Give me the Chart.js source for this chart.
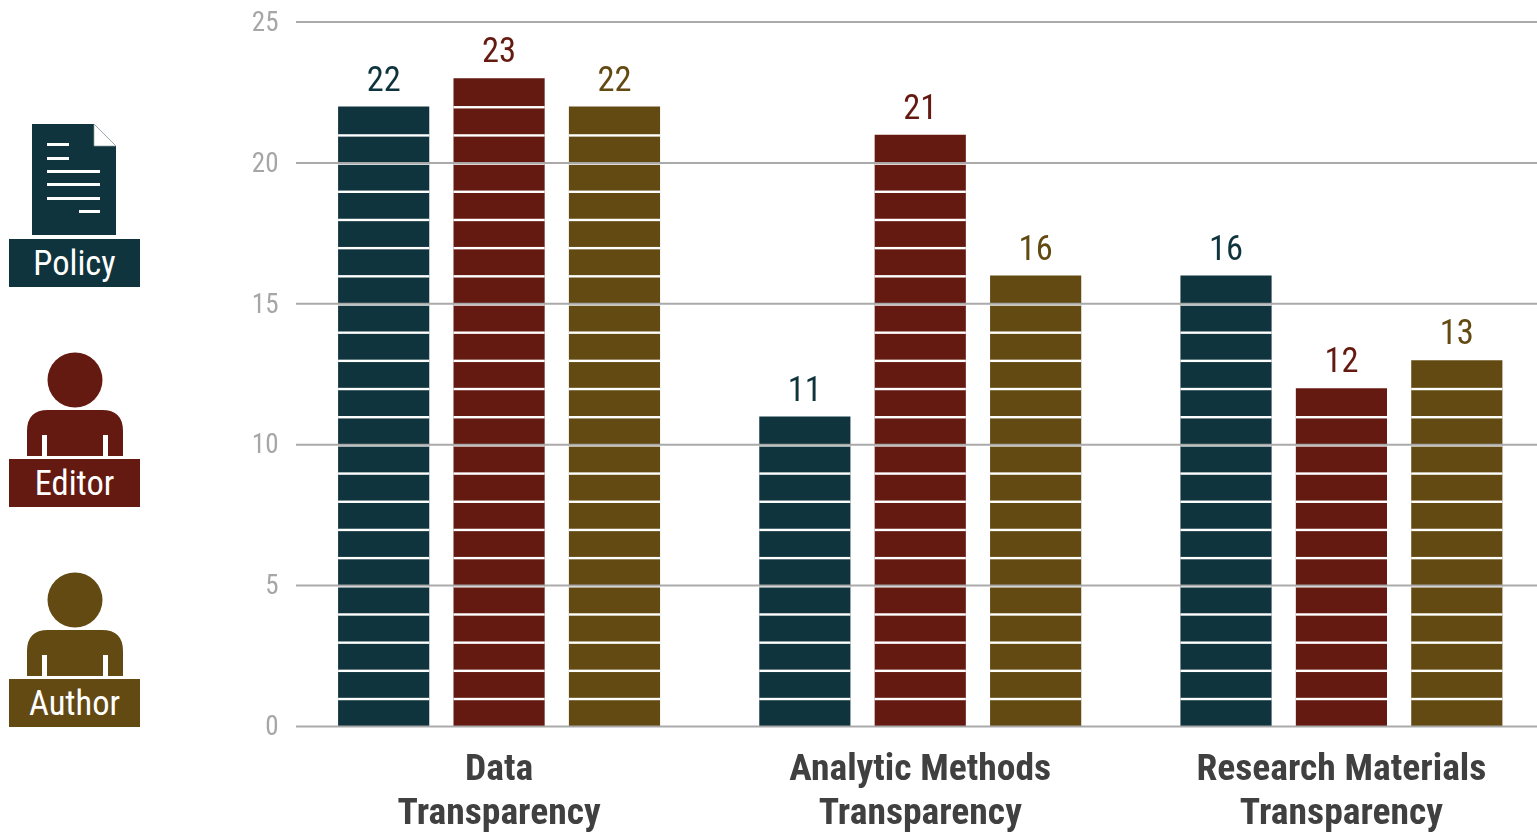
<!DOCTYPE html>
<html>
<head>
<meta charset="utf-8">
<title>Transparency</title>
<script src="https://cdn.jsdelivr.net/npm/chart.js@4"></script>
<style>
html, body { margin: 0; padding: 0; background: #fff; overflow: hidden; width: 1537px; height: 833px; }
#chart { position: absolute; left: 0; top: 0; }
.tag { position: absolute; left: 9px; width: 131px; height: 48px; color: #fff; text-align: center;
       font: 34.5px/48px "Roboto Condensed", Roboto, sans-serif; }
.icon { position: absolute; left: 0; top: 0; }
</style>
</head>
<body>
<canvas id="chart" width="1552" height="833"></canvas>
<svg class="icon" width="160" height="833">
  <path d="M32 124H94L116 146V235H32Z" fill="#0F343D"/>
  <path d="M94 124L116 146H94Z" fill="#fff" stroke="#8aa0a5" stroke-width="0.7"/>
  <g fill="#fff">
    <rect x="47" y="143" width="22" height="3"/><rect x="47" y="157" width="22" height="3"/>
    <rect x="47" y="170" width="53" height="3"/><rect x="47" y="183" width="53" height="3"/>
    <rect x="47" y="197" width="53" height="3"/><rect x="79" y="210" width="21" height="3"/>
  </g>
  <g fill="#641A10">
    <circle cx="75" cy="380" r="27.5"/>
    <path d="M27 456V431Q27 410 48 410H102Q123 410 123 431V456H108V435H103V456H47V435H42V456Z"/>
  </g>
  <g fill="#634A13">
    <circle cx="75" cy="600" r="27.5"/>
    <path d="M27 676V651Q27 630 48 630H102Q123 630 123 651V676H108V655H103V676H47V655H42V676Z"/>
  </g>
</svg>
<div class="tag" style="top:239px;background:#0F343D">Policy</div>
<div class="tag" style="top:459px;background:#641A10">Editor</div>
<div class="tag" style="top:679px;background:#634A13">Author</div>
<script>
var categories = [["Data", "Transparency"], ["Analytic Methods", "Transparency"], ["Research Materials", "Transparency"]];
var seriesNames = ["Policy", "Editor", "Author"];
var policyValues = [22, 11, 16];
var editorValues = [23, 21, 12];
var authorValues = [22, 16, 13];
var yTicks = [0, 5, 10, 15, 20, 25];

Chart.defaults.font.family = "'Roboto Condensed', Roboto";

// white rungs on each bar, gridlines and the numbers above the bars
var barExtras = {
    id: 'barExtras',
    afterDatasetsDraw: function (chart) {
        var ctx = chart.ctx, y = chart.scales.y;
        ctx.save();
        chart.data.datasets.forEach(function (ds, i) {
            chart.getDatasetMeta(i).data.forEach(function (bar, j) {
                ctx.fillStyle = '#fff';
                var half = bar.width / 2;
                for (var k = 1; k < ds.data[j]; k++) {
                    ctx.fillRect(bar.x - half, y.getPixelForValue(k) - 0.5, bar.width, 2.4);
                }
                ctx.fillStyle = ds.backgroundColor;
                ctx.font = "34.5px 'Roboto Condensed'";
                ctx.textAlign = 'center';
                ctx.textBaseline = 'alphabetic';
                ctx.fillText(ds.data[j], bar.x, bar.y - 16);
            });
        });
        ctx.strokeStyle = 'rgba(165,165,165,0.95)';
        ctx.lineWidth = 2;
        yTicks.forEach(function (t) {
            var py = y.getPixelForValue(t);
            ctx.beginPath();
            ctx.moveTo(296, py);
            ctx.lineTo(chart.width, py);
            ctx.stroke();
        });
        ctx.restore();
    }
};

new Chart(document.getElementById('chart'), {
    type: 'bar',
    data: {
        labels: categories,
        datasets: [
            { label: seriesNames[0], data: policyValues, backgroundColor: '#0F343D' },
            { label: seriesNames[1], data: editorValues, backgroundColor: '#641A10' },
            { label: seriesNames[2], data: authorValues, backgroundColor: '#634A13' }
        ]
    },
    plugins: [barExtras],
    options: {
        responsive: false,
        animation: false,
        layout: { padding: { top: 22 } },
        plugins: { legend: { display: false }, tooltip: { enabled: false } },
        datasets: { bar: { categoryPercentage: 0.822, barPercentage: 0.79 } },
        scales: {
            y: {
                min: 0, max: 25,
                afterFit: function (scale) { scale.width = 288.5; },
                grid: { display: false },
                border: { display: false },
                ticks: {
                    stepSize: 5,
                    color: '#A6A6A6',
                    font: { size: 27, lineHeight: '4px' },
                    padding: 2,
                    // blank first line nudges the number down a little, as in the picture
                    callback: function (v) { return ['', String(v)]; }
                }
            },
            x: {
                afterFit: function (scale) { scale.height = 106.5; },
                grid: { display: false },
                border: { display: false },
                ticks: { color: '#404040', font: { size: 37.6, weight: 'bold', lineHeight: 1.18 }, maxRotation: 0, autoSkip: false, padding: 14 }
            }
        }
    }
});
</script>
</body>
</html>
